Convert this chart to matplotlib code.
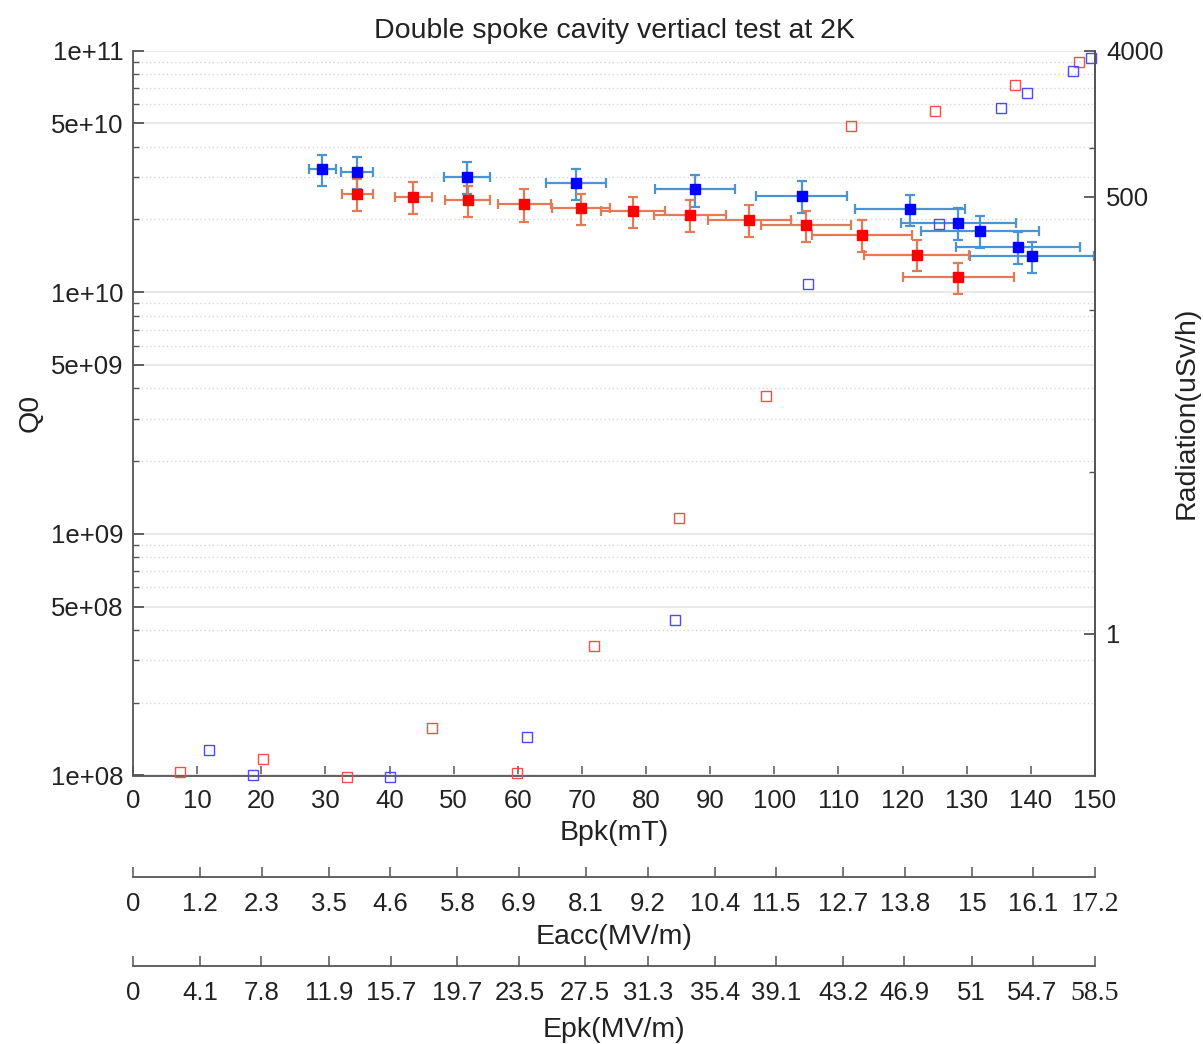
import matplotlib
matplotlib.use("Agg")
import matplotlib.pyplot as plt
from matplotlib.ticker import FixedLocator, NullFormatter

plt.rcParams['font.family'] = ['Liberation Sans', 'DejaVu Sans']

# Q0 vs Bpk with error bars (left axis)
bpk_blue = [29.5, 34.9, 52.1, 69.1, 87.6, 104.3, 121.1, 128.7, 132.0, 138.0, 140.2]
q0_blue = [3.23e10, 3.14e10, 2.99e10, 2.82e10, 2.66e10, 2.50e10, 2.20e10, 1.94e10, 1.79e10, 1.54e10, 1.41e10]
bpk_err_blue = [2.1, 2.45, 3.6, 4.7, 6.2, 7.1, 8.6, 9.0, 9.2, 9.6, 9.7]
q0_err_blue = [0.48e10, 0.47e10, 0.45e10, 0.42e10, 0.40e10, 0.38e10, 0.33e10, 0.29e10, 0.27e10, 0.23e10, 0.21e10]

bpk_red = [35.0, 43.7, 52.2, 61.0, 69.9, 78.0, 86.8, 96.1, 104.9, 113.7, 122.2, 128.7]
q0_red = [2.55e10, 2.48e10, 2.40e10, 2.31e10, 2.23e10, 2.16e10, 2.09e10, 1.99e10, 1.89e10, 1.72e10, 1.43e10, 1.15e10]
bpk_err_red = [2.4, 2.9, 3.5, 4.1, 4.5, 5.0, 5.6, 6.5, 7.0, 7.8, 8.2, 8.7]
q0_err_red = [0.38e10, 0.37e10, 0.36e10, 0.35e10, 0.33e10, 0.32e10, 0.31e10, 0.30e10, 0.28e10, 0.26e10, 0.21e10, 0.17e10]

# radiation vs Bpk (right axis)
bpk_rad_red = [7.3, 20.3, 33.4, 46.6, 59.9, 71.9, 85.1, 98.7, 112.0, 125.0, 137.5, 147.5]
rad_red = [0.14, 0.167, 0.13, 0.26, 0.138, 0.84, 5.2, 29.5, 1357, 1680, 2466, 3385]
bpk_rad_blue = [11.9, 18.7, 40.1, 61.4, 84.5, 105.3, 125.7, 135.3, 139.4, 146.6, 149.4]
rad_blue = [0.19, 0.133, 0.13, 0.23, 1.22, 145, 337, 1754, 2170, 3008, 3570]

# axis ticks
q0_ticks = [1e8, 5e8, 1e9, 5e9, 1e10, 5e10, 1e11]
q0_labels = ['1e+08', '5e+08', '1e+09', '5e+09', '1e+10', '5e+10', '1e+11']
rad_ticks = [1, 500, 4000]
rad_minor = [10, 100, 1000]
bpk_ticks = list(range(0, 151, 10))
eacc_ticks = [0, 1.2, 2.3, 3.5, 4.6, 5.8, 6.9, 8.1, 9.2, 10.4, 11.5, 12.7, 13.8, 15, 16.1, 17.2]
epk_ticks = [0, 4.1, 7.8, 11.9, 15.7, 19.7, 23.5, 27.5, 31.3, 35.4, 39.1, 43.2, 46.9, 51, 54.7, 58.5]

FS = 18.5      # tick labels
FL = 20.5      # axis labels and title
SPINE = '#555555'
TXT = '#222222'
W, H = 1203, 1044
L, R, T, B = 133, 1095, 50.5, 775.5

fig = plt.figure(figsize=(W / 100, H / 100), dpi=100)
ax = fig.add_axes([L / W, 1 - B / H, (R - L) / W, (B - T) / H])

ax.set_yscale('log')
ax.set_xlim(0, 150)
ax.set_ylim(1e8, 1e11)
ax.yaxis.set_major_locator(FixedLocator(q0_ticks))
ax.set_yticklabels(q0_labels)
minor = [k * 10 ** n for n in (8, 9, 10) for k in (2, 3, 4, 6, 7, 8, 9)]
ax.yaxis.set_minor_locator(FixedLocator(minor))
ax.yaxis.set_minor_formatter(NullFormatter())
ax.set_xticks(bpk_ticks)
ax.grid(which='major', axis='y', color='#e6e6e6', lw=1.3, ls='-')
ax.grid(which='minor', axis='y', color='#d6d6d6', lw=1.0, ls=(0, (1, 2)))
ax.set_axisbelow(True)

ax.errorbar(bpk_blue, q0_blue, xerr=bpk_err_blue, yerr=q0_err_blue, fmt='none',
            ecolor='#4a94d4', elinewidth=1.6, capsize=3.5, capthick=1.6, zorder=3)
ax.errorbar(bpk_red, q0_red, xerr=bpk_err_red, yerr=q0_err_red, fmt='none',
            ecolor='#e47a55', elinewidth=1.6, capsize=3.5, capthick=1.6, zorder=3)
ax.plot(bpk_blue, q0_blue, 's', color='#0000ff', ms=7.5, zorder=4)
ax.plot(bpk_red, q0_red, 's', color='#ff0000', ms=7.5, zorder=4)

ax.tick_params(axis='both', which='both', direction='in', colors=SPINE,
               labelcolor=TXT, labelsize=FS)
ax.tick_params(axis='y', which='major', length=8, width=1.3, pad=7)
ax.tick_params(axis='y', which='minor', length=4, width=1.0)
ax.tick_params(axis='x', which='major', length=7, width=1.1, pad=10, top=False)
for side in ('left', 'bottom', 'right'):
    ax.spines[side].set_color(SPINE)
    ax.spines[side].set_linewidth(1.3)
ax.spines['top'].set_visible(False)

ax.set_xlabel('Bpk(mT)', fontsize=FL, labelpad=5, color=TXT)
ax.set_ylabel('Q0', fontsize=FL, labelpad=5, color=TXT)
ax.set_title('Double spoke cavity vertiacl test at 2K', fontsize=FL, pad=9, color=TXT)

ax2 = ax.twinx()
ax2.set_yscale('log')
ax2.set_ylim(0.1327, 4000)
ax2.yaxis.set_major_locator(FixedLocator(rad_ticks))
ax2.set_yticklabels([str(v) for v in rad_ticks])
ax2.yaxis.set_minor_locator(FixedLocator(rad_minor))
ax2.yaxis.set_minor_formatter(NullFormatter())
ax2.tick_params(axis='y', which='both', direction='in', colors=SPINE,
                labelcolor=TXT, labelsize=FS)
ax2.tick_params(axis='y', which='major', length=8, width=1.3, pad=8)
ax2.tick_params(axis='y', which='minor', length=4, width=1.0)
for side in ('top', 'left', 'bottom'):
    ax2.spines[side].set_visible(False)
ax2.spines['right'].set_color(SPINE)
ax2.spines['right'].set_linewidth(1.3)
ax2.plot(bpk_rad_red, rad_red, 's', mfc='none', mec='#ff4a4a', mew=1.0, ms=6.5, clip_on=False)
ax2.plot(bpk_rad_blue, rad_blue, 's', mfc='none', mec='#4a4aff', mew=1.0, ms=6.5, clip_on=False)
ax2.set_ylabel('Radiation(uSv/h)', fontsize=FL, labelpad=7, color=TXT)


def extra_axis(y_line, xmax, ticks, label, lpad):
    a = fig.add_axes([L / W, 1 - y_line / H, (R - L) / W, 1e-4])
    a.set_xlim(0, xmax)
    a.set_xticks(ticks)
    a.set_xticklabels(['%g' % v for v in ticks])
    a.set_yticks([])
    for side in ('top', 'left', 'right'):
        a.spines[side].set_visible(False)
    a.spines['bottom'].set_color(SPINE)
    a.spines['bottom'].set_linewidth(1.3)
    a.patch.set_visible(False)
    a.tick_params(axis='x', direction='in', length=7, width=1.1, colors=SPINE,
                  labelcolor=TXT, labelsize=FS, pad=11)
    last = a.get_xticklabels()[-1]
    last.set_fontfamily(['Liberation Serif', 'DejaVu Serif'])
    last.set_fontsize(FS + 1.5)
    a.set_xlabel(label, fontsize=FL, labelpad=lpad, color=TXT)
    return a


extra_axis(877, 17.2, eacc_ticks, 'Eacc(MV/m)', 5)
extra_axis(966, 58.5, epk_ticks, 'Epk(MV/m)', 8)

fig.savefig('out.png', dpi=100)
